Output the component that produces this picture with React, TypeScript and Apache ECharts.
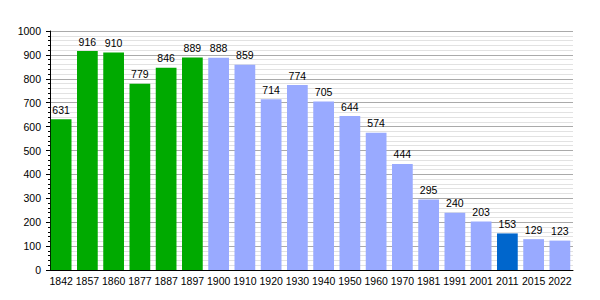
import React, { useEffect, useRef } from "react";
import * as echarts from "echarts";

const years = ["1842","1857","1860","1877","1887","1897","1900","1910","1920","1930","1940","1950","1960","1970","1981","1991","2001","2011","2015","2022"];
const population = [631,916,910,779,846,889,888,859,714,774,705,644,574,444,295,240,203,153,129,123];
const barColors = ["#00aa00","#00aa00","#00aa00","#00aa00","#00aa00","#00aa00","#99aaff","#99aaff","#99aaff","#99aaff","#99aaff","#99aaff","#99aaff","#99aaff","#99aaff","#99aaff","#99aaff","#0066cc","#99aaff","#99aaff"];

export default function App() {
  const ref = useRef<HTMLDivElement>(null);
  useEffect(() => {
    const chart = echarts.init(ref.current!, undefined, { renderer: "svg" });
    chart.setOption({
      animation: false,
      textStyle: { fontFamily: "Liberation Sans, Arial, sans-serif" },
      grid: { left: 48, right: 27, top: 31, bottom: 30, containLabel: false },
      xAxis: {
        type: "category",
        data: years,
        axisLine: { lineStyle: { color: "#000", width: 1 } },
        axisTick: { show: false },
        axisLabel: { color: "#000", fontSize: 10.5, margin: 5, interval: 0 },
      },
      yAxis: {
        type: "value",
        min: 0,
        max: 1000,
        interval: 100,
        offset: -2,
        axisLine: { show: true, lineStyle: { color: "#000", width: 1 } },
        axisTick: { show: true, length: 4, lineStyle: { color: "#000" } },
        minorTick: { show: true, splitNumber: 5, length: 2, lineStyle: { color: "#000" } },
        axisLabel: { color: "#000", fontSize: 10.5, margin: 9, formatter: (v: number) => String(v) },
        splitLine: { show: true, lineStyle: { color: "#aaaaaa", width: 1 } },
        minorSplitLine: { show: true, lineStyle: { color: "#e2e2e2", width: 1 } },
      },
      series: [
        {
          type: "bar",
          data: population.map((v, i) => ({ value: v, itemStyle: { color: barColors[i] } })),
          barCategoryGap: "21%",
          label: { show: true, position: "top", distance: 4, color: "#000", fontSize: 10.5 },
        },
      ],
    });
    return () => chart.dispose();
  }, []);
  return <div ref={ref} style={{ width: 600, height: 300, position: "absolute", left: 0, top: 0, background: "#fff" }} />;
}
